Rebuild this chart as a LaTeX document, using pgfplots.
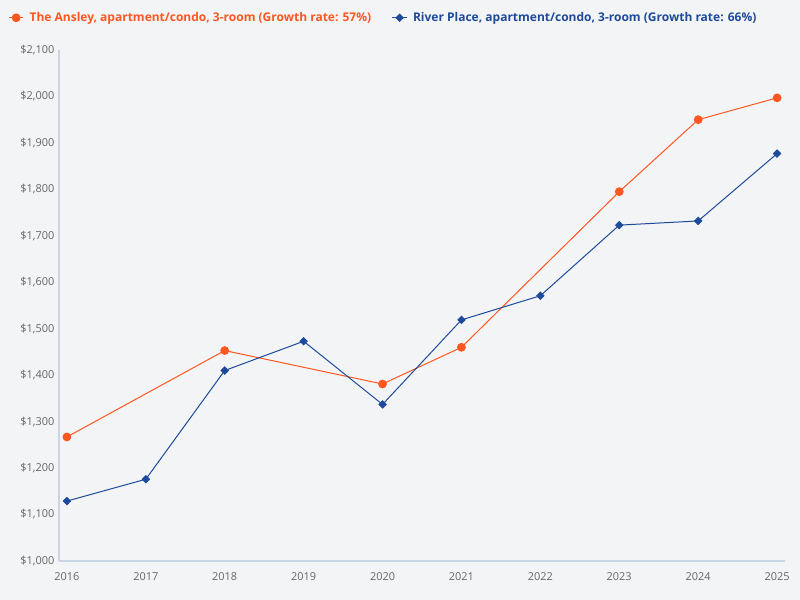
\documentclass[border=0pt]{standalone}
\usepackage{pgfplots}
\pgfplotsset{compat=1.18}
\usepackage{fontspec}
\setmainfont{Open Sans}
\definecolor{bgc}{HTML}{F3F4F6}
\definecolor{ansley}{HTML}{FF5722}
\definecolor{river}{HTML}{1E4A9C}
\definecolor{axc}{HTML}{C9D4E6}
\definecolor{tickc}{HTML}{666666}
\begin{document}
\begin{tikzpicture}
\fill[bgc] (0,0) rectangle (600pt,450pt);
\begin{axis}[
  at={(44.25pt,29.25pt)}, anchor=south west,
  scale only axis, width=544.5pt, height=383.25pt,
  xmin=2015.9, xmax=2025.1, ymin=1000, ymax=2100,
  axis x line*=bottom, axis y line*=left,
  axis line style={axc, line width=0.8pt},
  tick style={draw=none},
  xtick={2016,...,2025}, ytick={1000,1100,...,2100},
  xticklabel style={font=\fontsize{8.2pt}{10pt}\selectfont, text=tickc, yshift=-5pt},
  yticklabel style={font=\fontsize{8.2pt}{10pt}\selectfont, text=tickc},
  /pgf/number format/assume math mode=true,
  x tick label style={/pgf/number format/1000 sep={}},
  yticklabel={\$\pgfmathprintnumber[1000 sep={,}]{\tick}},
  legend columns=2,
  legend image code/.code={\draw[mark repeat=2,mark phase=2] plot coordinates {(0cm,0cm) (0.19cm,0cm) (0.38cm,0cm)};},
  legend style={at={(-0.0755,1.063)}, anchor=west, draw=none, fill=none,
    font=\bfseries\fontsize{9pt}{11pt}\selectfont,
    /tikz/every odd column/.append style={column sep=2.3pt},
    /tikz/every even column/.append style={column sep=13.5pt}},
  legend cell align=left,
]
\addplot[ansley, line width=0.75pt, mark=*, mark size=2.9pt] coordinates {
 (2016,1267) (2018,1453) (2020,1381) (2021,1460) (2023,1795) (2024,1950) (2025,1997)};
\addlegendentry{\textcolor{ansley}{The Ansley, apartment/condo, 3-room (Growth rate: 57\%)}}
\addplot[river, line width=0.75pt, mark=square*, mark size=1.9pt, mark options={rotate=45}] coordinates {
 (2016,1129) (2017,1176) (2018,1410) (2019,1473) (2020,1337) (2021,1519) (2022,1571) (2023,1723) (2024,1732) (2025,1877)};
\addlegendentry{\textcolor{river}{River Place, apartment/condo, 3-room (Growth rate: 66\%)}}
\end{axis}
\end{tikzpicture}
\end{document}
